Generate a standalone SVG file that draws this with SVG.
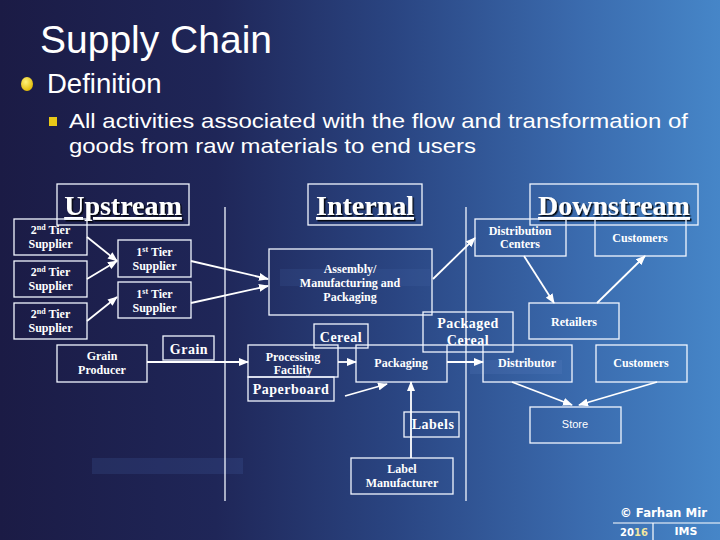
<svg xmlns="http://www.w3.org/2000/svg" width="720" height="540" viewBox="0 0 720 540">
<defs>
<linearGradient id="bg" x1="0" y1="0" x2="1" y2="0">
<stop offset="0" stop-color="#1b1b45"/>
<stop offset="0.3" stop-color="#1f2658"/>
<stop offset="0.55" stop-color="#2a4582"/>
<stop offset="0.8" stop-color="#3a6aad"/>
<stop offset="1" stop-color="#4686c8"/>
</linearGradient>
<radialGradient id="ball" cx="0.4" cy="0.35" r="0.7">
<stop offset="0" stop-color="#fff27a"/>
<stop offset="1" stop-color="#e0b800"/>
</radialGradient>
<filter id="sh" x="-10%" y="-10%" width="130%" height="140%">
<feDropShadow dx="1.5" dy="1.5" stdDeviation="0" flood-color="#000" flood-opacity="0.9"/>
</filter>
<marker id="ah" markerUnits="userSpaceOnUse" markerWidth="10" markerHeight="8" refX="9" refY="4" orient="auto">
<path d="M0,0 L10,4 L0,8 z" fill="#ffffff"/>
</marker>
<style>
.box{fill:none;stroke:#f2f6ff;stroke-width:1.3}
.t{font-family:"Liberation Serif","Times New Roman",serif;font-weight:bold;font-size:12px;fill:#ffffff;text-anchor:middle}
.m{font-size:14px;letter-spacing:0.5px}
.h{font-family:"Liberation Serif","Times New Roman",serif;font-weight:bold;font-size:28px;fill:#ffffff;text-anchor:middle;text-decoration:underline}
.s{font-family:"Liberation Sans",Arial,sans-serif;fill:#ffffff}
.c{stroke:#ffffff;stroke-width:1.8;fill:none}
.a{marker-end:url(#ah)}
.d{stroke:#f2f6ff;stroke-width:1.3}
</style>
</defs>
<rect width="720" height="540" fill="url(#bg)"/>
<rect x="92" y="458" width="151" height="16" fill="#5070b8" opacity="0.18"/>
<rect x="280" y="269" width="150" height="17" fill="#5070b8" opacity="0.15"/>
<rect x="470" y="360" width="92" height="14" fill="#6a90d0" opacity="0.15"/>

<g id="header">
<text class="s" x="40" y="53" font-size="39">Supply Chain</text>
<ellipse cx="27" cy="84" rx="6" ry="7" fill="url(#ball)"/>
<text class="s" x="47" y="93" font-size="27.5">Definition</text>
<rect x="49" y="117" width="8" height="9" fill="#e8c818"/>
<text class="s" x="69" y="128" font-size="21" textLength="619" lengthAdjust="spacingAndGlyphs">All activities associated with the flow and transformation of</text>
<text class="s" x="69" y="153" font-size="21" textLength="407" lengthAdjust="spacingAndGlyphs">goods from raw materials to end users</text>
</g>

<g id="dividers">
<line class="d" x1="225" y1="207" x2="225" y2="501"/>
<line class="d" x1="466" y1="207" x2="466" y2="501"/>
</g>

<g id="upstream">
<rect class="box" x="57" y="184" width="132" height="41"/>
<text class="h" x="123" y="215" filter="url(#sh)">Upstream</text>
</g>
<g id="internal">
<rect class="box" x="308" y="184" width="114" height="41"/>
<text class="h" x="365" y="215" filter="url(#sh)">Internal</text>
</g>
<g id="downstream">
<rect class="box" x="530" y="184" width="168" height="41"/>
<text class="h" x="614" y="215" filter="url(#sh)">Downstream</text>
</g>

<g id="tier2a">
<rect class="box" x="14" y="219" width="73" height="36"/>
<text class="t" x="50.5" y="234">2<tspan font-size="8" baseline-shift="super">nd</tspan> Tier</text>
<text class="t" x="50.5" y="248">Supplier</text>
</g>
<g id="tier2b">
<rect class="box" x="14" y="261" width="73" height="36"/>
<text class="t" x="50.5" y="276">2<tspan font-size="8" baseline-shift="super">nd</tspan> Tier</text>
<text class="t" x="50.5" y="290">Supplier</text>
</g>
<g id="tier2c">
<rect class="box" x="14" y="303" width="73" height="36"/>
<text class="t" x="50.5" y="318">2<tspan font-size="8" baseline-shift="super">nd</tspan> Tier</text>
<text class="t" x="50.5" y="332">Supplier</text>
</g>
<g id="tier1a">
<rect class="box" x="118" y="240" width="73" height="37"/>
<text class="t" x="154.5" y="256">1<tspan font-size="8" baseline-shift="super">st</tspan> Tier</text>
<text class="t" x="154.5" y="270">Supplier</text>
</g>
<g id="tier1b">
<rect class="box" x="118" y="282" width="73" height="36"/>
<text class="t" x="154.5" y="298">1<tspan font-size="8" baseline-shift="super">st</tspan> Tier</text>
<text class="t" x="154.5" y="312">Supplier</text>
</g>
<g id="grainproducer">
<rect class="box" x="57" y="345" width="90" height="37"/>
<text class="t" x="102" y="360">Grain</text>
<text class="t" x="102" y="374">Producer</text>
</g>
<g id="grain">
<rect class="box" x="163" y="336" width="51" height="24"/>
<text class="t m" x="189" y="354">Grain</text>
</g>
<g id="assembly">
<rect class="box" x="269" y="249" width="163" height="66"/>
<text class="t" x="350" y="273">Assembly/</text>
<text class="t" x="350" y="287">Manufacturing and</text>
<text class="t" x="350" y="301">Packaging</text>
</g>
<g id="cereal">
<rect class="box" x="314" y="324" width="54" height="24"/>
<text class="t m" x="341" y="342">Cereal</text>
</g>
<g id="processing">
<rect class="box" x="248" y="345" width="90" height="32"/>
<text class="t" x="293" y="361">Processing</text>
<text class="t" x="293" y="374">Facility</text>
</g>
<g id="paperboard">
<rect class="box" x="248" y="377" width="86" height="24"/>
<text class="t m" x="291" y="394" letter-spacing="1">Paperboard</text>
</g>
<g id="packaging">
<rect class="box" x="356" y="345" width="91" height="37"/>
<text class="t" x="401" y="367">Packaging</text>
</g>
<g id="labels">
<rect class="box" x="404" y="412" width="55" height="25"/>
<text class="t m" x="433" y="429">Labels</text>
</g>
<g id="labelmanufacturer">
<rect class="box" x="351" y="458" width="102" height="36"/>
<text class="t" x="402" y="473">Label</text>
<text class="t" x="402" y="487">Manufacturer</text>
</g>
<g id="packagedcereal">
<rect class="box" x="423" y="312" width="90" height="40"/>
<text class="t m" x="468" y="328">Packaged</text>
<text class="t m" x="468" y="345">Cereal</text>
</g>
<g id="distributioncenters">
<rect class="box" x="475" y="219" width="91" height="37"/>
<text class="t" x="520" y="235">Distribution</text>
<text class="t" x="520" y="248">Centers</text>
</g>
<g id="customers1">
<rect class="box" x="595" y="219" width="91" height="37"/>
<text class="t" x="640" y="242">Customers</text>
</g>
<g id="retailers">
<rect class="box" x="529" y="303" width="90" height="36"/>
<text class="t" x="574" y="326">Retailers</text>
</g>
<g id="distributor">
<rect class="box" x="483" y="345" width="89" height="37"/>
<text class="t" x="527" y="367">Distributor</text>
</g>
<g id="customers2">
<rect class="box" x="596" y="345" width="91" height="37"/>
<text class="t" x="641" y="367">Customers</text>
</g>
<g id="store">
<rect class="box" x="530" y="407" width="91" height="36"/>
<text class="s" x="575" y="428" font-size="11" text-anchor="middle">Store</text>
</g>

<g id="connectors">
<line class="c a" x1="87" y1="237" x2="117" y2="261"/>
<line class="c a" x1="87" y1="279" x2="117" y2="261"/>
<line class="c a" x1="87" y1="321" x2="117" y2="297"/>
<line class="c a" x1="191" y1="261" x2="268" y2="279"/>
<line class="c a" x1="191" y1="303" x2="268" y2="286"/>
<line class="c a" x1="433" y1="279" x2="475" y2="238"/>
<line class="c a" x1="147" y1="362" x2="248" y2="362"/>
<line class="c a" x1="338" y1="362" x2="356" y2="362"/>
<line class="c a" x1="447" y1="362" x2="483" y2="362"/>
<line class="c a" x1="345" y1="396" x2="387" y2="384"/>
<line class="c a" x1="411" y1="458" x2="411" y2="382"/>
<line class="c a" x1="524" y1="256" x2="554" y2="303"/>
<line class="c a" x1="597" y1="303" x2="645" y2="256"/>
<line class="c a" x1="512" y1="382" x2="572" y2="405"/>
<line class="c a" x1="657" y1="382" x2="579" y2="405"/>
<line class="d" x1="447" y1="345" x2="483" y2="345"/>
</g>

<g id="footer">
<text x="620" y="517" font-family="'DejaVu Sans',Verdana,sans-serif" font-weight="bold" font-size="12" fill="#ffffff" textLength="87" lengthAdjust="spacingAndGlyphs">© Farhan Mir</text>
<line x1="613" y1="523" x2="720" y2="523" stroke="#ffffff" stroke-width="1.2"/>
<line x1="653" y1="523" x2="653" y2="540" stroke="#ffffff" stroke-width="1.2"/>
<text x="620" y="536" font-family="'DejaVu Sans',Verdana,sans-serif" font-weight="bold" font-size="10" fill="#ffffff">20<tspan fill="#f0e6a0">16</tspan></text>
<text x="686" y="535" font-family="'DejaVu Sans',Verdana,sans-serif" font-weight="bold" font-size="11" fill="#ffffff" text-anchor="middle">IMS</text>
</g>
</svg>
